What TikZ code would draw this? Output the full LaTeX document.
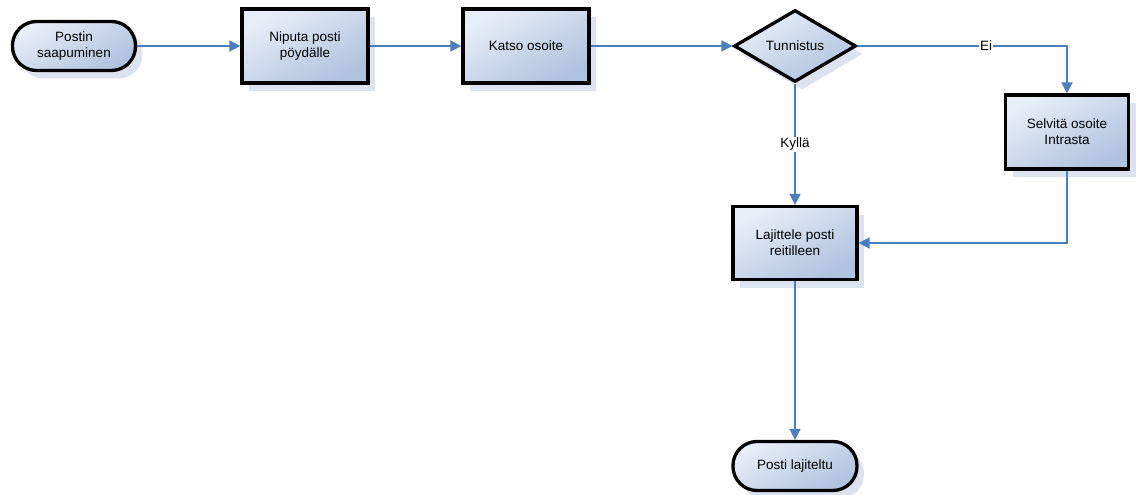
\documentclass[tikz,border=0pt]{standalone}
\usepackage{fontspec}
\setmainfont{Liberation Sans}
\usetikzlibrary{shapes.geometric,shadows,arrows.meta}
\definecolor{boxlight}{HTML}{E8EEF8}
\definecolor{boxdark}{HTML}{AFC2DE}
\definecolor{shadowc}{HTML}{DCE3EF}
\definecolor{flow}{HTML}{4A7EBF}
\tikzset{
  base/.style={draw=black, line width=3.3pt, inner sep=0pt, align=center,
    font=\fontsize{13.5}{16}\selectfont,
    top color=boxlight, bottom color=boxdark, shading angle=30,
    drop shadow={shadow xshift=7pt, shadow yshift=-8pt, fill=shadowc, opacity=1, draw=none}},
  stepbox/.style={base, rectangle, minimum width=126pt, minimum height=74pt},
  termbox/.style={base, rectangle, rounded corners=24pt, minimum width=123pt, minimum height=49pt},
  decision/.style={base, diamond, minimum width=122pt, minimum height=72pt, shape aspect=1.7},
  flowline/.style={draw=flow, line width=1.8pt, -{Triangle[length=11pt,width=11pt]}},
  flowlabel/.style={fill=white, inner sep=1pt, font=\fontsize{13.5}{16}\selectfont}
}
\begin{document}
\begin{tikzpicture}[x=1pt, y=-1pt]
  \useasboundingbox (0,0) rectangle (1136,495);
  \node[termbox]  (start)  at (74,46)    {Postin\\saapuminen};
  \node[stepbox]  (bundle) at (305,46)   {Niputa posti\\pöydälle};
  \node[stepbox]  (check)  at (526,46)   {Katso osoite};
  \node[decision] (ident)  at (795,46)   {Tunnistus};
  \node[stepbox, minimum width=123pt] (find) at (1067,132) {Selvitä osoite\\Intrasta};
  \node[stepbox, minimum width=124pt, minimum height=73pt] (sort) at (795,243) {Lajittele posti\\reitilleen};
  \node[termbox, minimum width=124pt] (done) at (795,466) {Posti lajiteltu};

  \draw[flowline] (start.east) -- (bundle.west);
  \draw[flowline] (bundle.east) -- (check.west);
  \draw[flowline] (check.east) -- (ident.west);
  \draw[flowline] (ident.east) -| node[flowlabel, pos=0.307] {Ei} (find.north);
  \draw[flowline] (ident.south) -- node[flowlabel, pos=0.5] {Kyllä} (sort.north);
  \draw[flowline] (find.south) |- (sort.east);
  \draw[flowline] (sort.south) -- (done.north);
\end{tikzpicture}
\end{document}
